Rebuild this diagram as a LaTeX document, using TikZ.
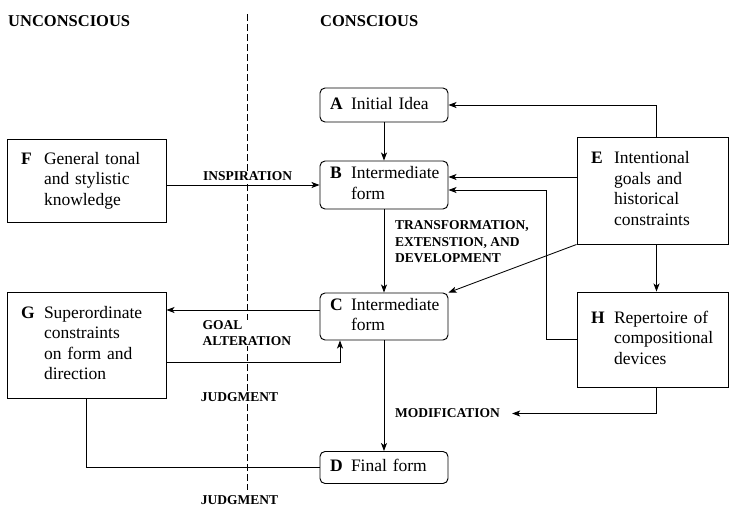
\documentclass[tikz,border=0pt]{standalone}
\usepackage{fontspec}
\setmainfont{Liberation Serif}
\usetikzlibrary{arrows.meta}

\newlength{\tagw}
\newcommand{\boxtag}[2]{\makebox[\tagw][l]{\textbf{#1}}\begin{tabular}[t]{@{}l@{}}#2\end{tabular}}

\begin{document}
\begin{tikzpicture}[x=1pt,y=-1pt,
    itembox/.style={draw,line width=0.95pt,align=left,inner ysep=0pt,
      font=\fontsize{17.5}{20.5}\selectfont},
    softbox/.style={itembox,rounded corners=5pt,text width=108pt,inner xsep=10pt,
      execute at begin node={\setlength{\tagw}{21pt}}},
    hardbox/.style={itembox,inner xsep=14pt,
      execute at begin node={\setlength{\tagw}{23pt}}},
    flow/.style={line width=0.85pt,-{Stealth[length=8pt,width=6pt,inset=2pt]}},
    flowlabel/.style={font=\fontsize{13.5}{16.5}\selectfont\bfseries,align=left,
      inner sep=0pt,fill=white},
    sidetitle/.style={font=\fontsize{16.5}{18}\selectfont\bfseries,inner sep=0pt,anchor=west},
    divider/.style={line width=0.8pt,dash pattern=on 7pt off 3pt}]
    \useasboundingbox (0,0) rectangle (729,506);

    \coordinate (divtop) at (247,14);
    \coordinate (divbot) at (247,490);
    \draw[divider] (divtop) -- (divbot);

    \node[sidetitle] (unc) at (8,21) {UNCONSCIOUS};
    \node[sidetitle] (con) at (320,21) {CONSCIOUS};

    \node[softbox,minimum height=34pt] (A) at (384,105) {\boxtag{A}{Initial Idea}};
    \node[softbox,minimum height=48pt] (B) at (384,185) {\boxtag{B}{Intermediate\\form}};
    \node[softbox,minimum height=47pt] (C) at (384,316.5) {\boxtag{C}{Intermediate\\form}};
    \node[softbox,minimum height=32pt] (D) at (384,467.5) {\boxtag{D}{Final form}};
    \node[hardbox,text width=131pt,minimum height=83pt] (F) at (86.5,180.5)
        {\boxtag{F}{General tonal\\and stylistic\\knowledge}};
    \node[hardbox,text width=131pt,minimum height=106pt] (G) at (86.5,345)
        {\boxtag{G}{Superordinate\\constraints\\on form and\\direction}};
    \node[hardbox,text width=123pt,minimum height=107pt] (E) at (652.5,190.5)
        {\boxtag{E}{Intentional\\goals and\\historical\\constraints}};
    \node[hardbox,text width=123pt,minimum height=95pt] (H) at (652.5,339.5)
        {\boxtag{H}{Repertoire of\\compositional\\devices}};

    \draw[flow] ([xshift=4pt]E.north) |- (A.east);
    \draw[flow] (A) -- (B);
    \draw[flow] (F.east |- B) -- (B.west)
        node[flowlabel,above=4pt,pos=0.53] {INSPIRATION};
    \coordinate (bin) at ([yshift=8pt]B.east);
    \draw[flow] (E.west |- bin) -- (bin);
    \draw[flow] (H.west) -- ++(-30,0) |- ([yshift=-5pt]B.east);
    \draw[flow] (B) -- (C);
    \node[flowlabel,anchor=north west] (tedlabel) at ([xshift=11pt,yshift=-11pt]B.south)
        {TRANSFORMATION,\\EXTENSTION, AND\\DEVELOPMENT};
    \draw[flow] (E.south west) -- (C.north east);
    \draw[flow] ([xshift=4pt]E.south) -- ([xshift=4pt]H.north);
    \coordinate (cout) at ([yshift=6.5pt]C.west);
    \draw[flow] (cout) -- (cout -| G.east)
        node[flowlabel,below=10pt,pos=0.474] {GOAL\\ALTERATION};
    \draw[flow] ([yshift=-17pt]G.east) -| ([xshift=-44pt]C.south);
    \draw[flow] (C) -- (D);
    \node[flowlabel,anchor=west] (modlabel) at (395,413.5) {MODIFICATION};
    \draw[flow] ([xshift=4pt]H.south) |- ([xshift=12pt]modlabel.east);
    \draw[line width=0.85pt] (G.south) |- (D.west);

    \node[flowlabel] (judgeup) at (239.5,397.5) {JUDGMENT};
    \node[flowlabel] (judgedown) at (239.5,500) {JUDGMENT};
\end{tikzpicture}
\end{document}
